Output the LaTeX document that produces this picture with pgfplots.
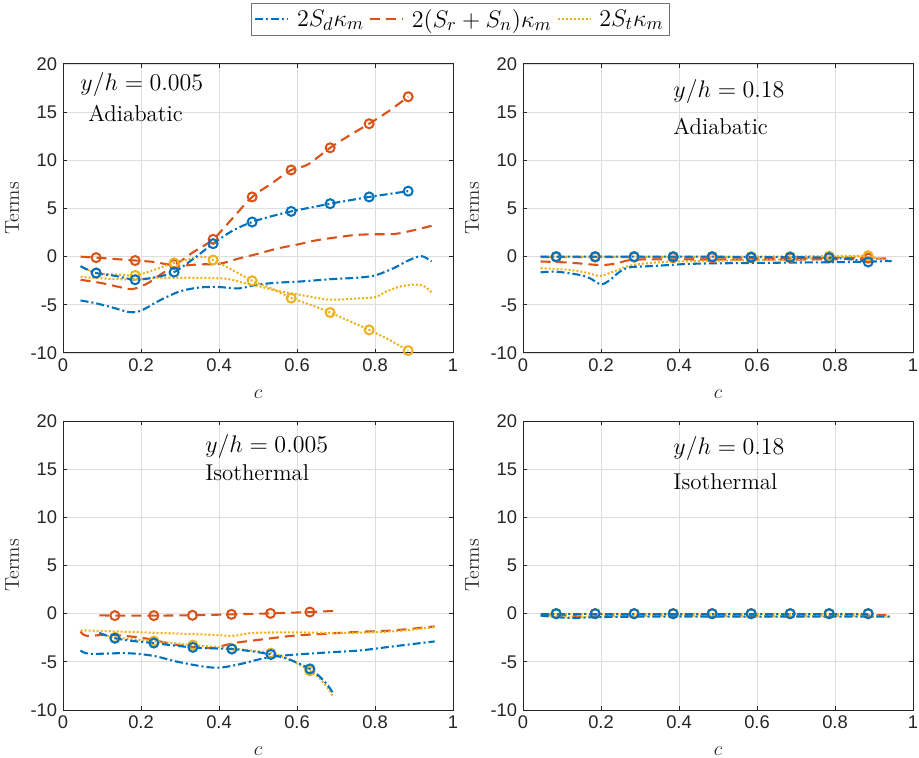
\documentclass[border=0pt]{standalone}
\usepackage{pgfplots}
\pgfplotsset{compat=1.18}
\usepackage{fontspec}
\newfontfamily\arialf{Liberation Sans}
\definecolor{mblue}{rgb}{0,0.447,0.741}
\definecolor{morange}{rgb}{0.85,0.325,0.098}
\definecolor{myellow}{rgb}{0.929,0.694,0.125}
\definecolor{maxis}{rgb}{0.15,0.15,0.15}
\tikzset{
 bl/.style={color=mblue, line width=1.25pt, dash pattern=on 4.8pt off 1.8pt on 1.2pt off 1.8pt},
 ol/.style={color=morange, line width=1.25pt, dash pattern=on 6pt off 3.6pt},
 yl/.style={color=myellow, line width=1.25pt, dash pattern=on 1.2pt off 1.2pt},
 bm/.style={only marks, mark=o, mark size=2.7pt, mark options={solid, line width=1.2pt, draw=mblue}},
 om/.style={only marks, mark=o, mark size=2.7pt, mark options={solid, line width=1.2pt, draw=morange}},
 ym/.style={only marks, mark=o, mark size=2.7pt, mark options={solid, line width=1.2pt, draw=myellow}},
}
\pgfplotsset{
 mat/.style={
  scale only axis, width=234pt, height=173.4pt,
  xmin=0, xmax=1, ymin=-10, ymax=20,
  xtick={0,0.2,0.4,0.6,0.8,1}, xticklabels={0,0.2,0.4,0.6,0.8,1},
  ytick={-10,-5,0,5,10,15,20}, yticklabels={-10,-5,0,5,10,15,20},
  tick align=inside, xtick pos=both, ytick pos=both,
  xticklabel pos=lower, yticklabel pos=left,
  major tick length=2.4pt,
  grid=major, major grid style={color=black!13, line width=0.5pt},
  axis line style={maxis, line width=0.6pt},
  every tick/.style={maxis, line width=0.6pt},
  tick label style={font=\arialf\fontsize{11}{13}\selectfont, text=maxis},
  xlabel={$c$}, ylabel={Terms},
  label style={font=\fontsize{12}{14}\selectfont, text=maxis},
  xlabel style={yshift=-4pt},
  every axis plot/.append style={forget plot},
  clip=false,
 },
}
\newcommand{\anno}{\fontsize{13.7}{16}\selectfont}
\begin{document}
\begin{tikzpicture}
\path[use as bounding box] (0,0) rectangle (551.4pt,-454.8pt);

% ---------------- panel 1
\begin{axis}[mat, at={(37.8pt,-38.4pt)}, anchor=north west,
  legend style={at={(1.019,1.212)}, anchor=north, legend columns=3,
    draw=black!55, line width=0.6pt, fill=white,
    font=\fontsize{15}{17}\selectfont, inner sep=1.5pt,
    /tikz/every even column/.append style={column sep=1pt},
    /tikz/every odd column/.append style={column sep=2.5pt}},
  legend image code/.code={\draw[#1] (0pt,0pt) -- (20pt,0pt);}]
\addlegendimage{bl}\addlegendentry{$2S_d\kappa_m$}
\addlegendimage{ol}\addlegendentry{$2(S_r+S_n)\kappa_m$}
\addlegendimage{yl}\addlegendentry{$2S_t\kappa_m$}
% unmarked
\addplot[bl, smooth] coordinates {(0.045,-4.55) (0.08,-4.8) (0.12,-5.2) (0.17,-5.75) (0.2,-5.6) (0.25,-4.5) (0.3,-3.6) (0.35,-3.2) (0.4,-3.15) (0.45,-3.3) (0.5,-2.9) (0.55,-2.7) (0.6,-2.6) (0.65,-2.45) (0.7,-2.3) (0.75,-2.2) (0.8,-1.95) (0.85,-1.15) (0.88,-0.5) (0.91,0) (0.925,0) (0.945,-0.5)};
\addplot[ol, smooth] coordinates {(0.045,-2.4) (0.1,-2.75) (0.15,-3.2) (0.18,-3.35) (0.22,-2.7) (0.26,-1.6) (0.3,-1.0) (0.35,-0.8) (0.4,-0.75) (0.45,-0.2) (0.5,0.3) (0.55,0.85) (0.6,1.25) (0.65,1.7) (0.7,2.0) (0.75,2.25) (0.8,2.33) (0.85,2.35) (0.9,2.75) (0.945,3.2)};
\addplot[yl, smooth] coordinates {(0.045,-2.1) (0.1,-2.25) (0.16,-2.35) (0.25,-2.2) (0.35,-2.2) (0.42,-2.3) (0.46,-2.7) (0.5,-3.05) (0.55,-3.55) (0.6,-3.9) (0.68,-4.45) (0.75,-4.35) (0.8,-4.2) (0.83,-3.6) (0.865,-3.1) (0.9,-2.9) (0.925,-3.05) (0.945,-3.7)};
% marked
\addplot[ol, smooth] coordinates {(0.045,0) (0.085,-0.1) (0.135,-0.25) (0.185,-0.4) (0.235,-0.55) (0.285,-0.8) (0.335,0.5) (0.385,1.8) (0.435,4.0) (0.485,6.2) (0.535,7.6) (0.585,9.0) (0.627,9.55) (0.685,11.3) (0.735,12.6) (0.785,13.8) (0.835,15.1) (0.885,16.6)};
\addplot[om] coordinates {(0.085,-0.1) (0.185,-0.4) (0.285,-0.8) (0.385,1.8) (0.485,6.2) (0.585,9.0) (0.685,11.3) (0.785,13.8) (0.885,16.6)};
\addplot[yl, smooth] coordinates {(0.045,-1.0) (0.085,-1.7) (0.135,-1.85) (0.185,-1.95) (0.235,-1.35) (0.285,-0.65) (0.335,-0.15) (0.36,0) (0.385,-0.35) (0.435,-1.4) (0.485,-2.5) (0.535,-3.3) (0.585,-4.3) (0.635,-5.0) (0.685,-5.8) (0.735,-6.7) (0.785,-7.6) (0.835,-8.6) (0.885,-9.75)};
\addplot[ym] coordinates {(0.085,-1.7) (0.185,-1.95) (0.285,-0.65) (0.385,-0.35) (0.485,-2.5) (0.585,-4.3) (0.685,-5.8) (0.785,-7.6) (0.885,-9.75)};
\addplot[bl, smooth] coordinates {(0.045,-1.0) (0.085,-1.7) (0.135,-2.0) (0.185,-2.4) (0.235,-2.15) (0.285,-1.6) (0.335,-0.2) (0.385,1.35) (0.435,2.7) (0.485,3.6) (0.535,4.2) (0.585,4.7) (0.635,5.1) (0.685,5.5) (0.735,5.85) (0.785,6.2) (0.835,6.5) (0.885,6.8)};
\addplot[bm] coordinates {(0.085,-1.7) (0.185,-2.4) (0.285,-1.6) (0.385,1.35) (0.485,3.6) (0.585,4.7) (0.685,5.5) (0.785,6.2) (0.885,6.8)};
\node[anchor=west, font=\anno, inner sep=0pt] at (axis cs:0.044,17.9) {$y/h=0.005$};
\node[anchor=west, font=\anno, inner sep=0pt] at (axis cs:0.064,14.9) {Adiabatic};
\end{axis}

% ---------------- panel 2
\begin{axis}[mat, at={(313.8pt,-38.4pt)}, anchor=north west]
\addplot[ol, smooth] coordinates {(0.045,-0.5) (0.12,-0.62) (0.197,-0.87) (0.24,-0.7) (0.274,-0.35) (0.334,-0.28) (0.5,-0.3) (0.7,-0.3) (0.85,-0.25) (0.945,-0.17)};
\addplot[yl, smooth] coordinates {(0.045,-1.2) (0.12,-1.38) (0.163,-1.66) (0.197,-2.0) (0.231,-1.56) (0.265,-1.04) (0.3,-0.76) (0.377,-0.52) (0.505,-0.42) (0.676,-0.28) (0.847,0) (0.887,0) (0.945,-0.5)};
\addplot[bl, smooth] coordinates {(0.045,-1.63) (0.086,-1.56) (0.146,-1.9) (0.172,-2.25) (0.2,-2.87) (0.223,-2.42) (0.248,-1.56) (0.274,-1.1) (0.334,-0.97) (0.42,-0.76) (0.505,-0.69) (0.676,-0.62) (0.847,-0.55) (0.945,-0.45)};
\addplot[ol] coordinates {(0.045,-0.05) (0.285,-0.05) (0.485,-0.1) (0.685,-0.12) (0.885,-0.15)};
\addplot[om] coordinates {(0.085,-0.05) (0.185,-0.05) (0.285,-0.05) (0.385,-0.08) (0.485,-0.1) (0.585,-0.1) (0.685,-0.12) (0.785,-0.12) (0.885,-0.15)};
\addplot[yl] coordinates {(0.045,0) (0.485,0) (0.785,0.05) (0.885,0.1)};
\addplot[ym] coordinates {(0.085,0) (0.185,0) (0.285,0) (0.385,0) (0.485,0) (0.585,0) (0.685,0) (0.785,0.05) (0.885,0.1)};
\addplot[bl, smooth] coordinates {(0.045,0) (0.085,0) (0.185,0) (0.285,0) (0.385,0) (0.485,0) (0.585,-0.05) (0.685,-0.05) (0.785,-0.1) (0.835,-0.25) (0.885,-0.55)};
\addplot[bm] coordinates {(0.085,0) (0.185,0) (0.285,0) (0.385,0) (0.485,0) (0.585,-0.05) (0.685,-0.05) (0.785,-0.1) (0.885,-0.55)};
\node[anchor=west, font=\anno, inner sep=0pt] at (axis cs:0.385,17.1) {$y/h=0.18$};
\node[anchor=west, font=\anno, inner sep=0pt] at (axis cs:0.385,13.5) {Adiabatic};
\end{axis}

% ---------------- panel 3
\begin{axis}[mat, at={(37.8pt,-252.6pt)}, anchor=north west]
\addplot[bl, smooth] coordinates {(0.045,-3.82) (0.069,-4.17) (0.163,-4.1) (0.232,-4.38) (0.291,-4.97) (0.36,-5.49) (0.403,-5.6) (0.454,-5.24) (0.505,-4.72) (0.556,-4.38) (0.676,-4.03) (0.761,-3.82) (0.846,-3.4) (0.953,-2.88)};
\addplot[ol, smooth] coordinates {(0.045,-1.84) (0.06,-2.29) (0.12,-2.2) (0.206,-2.53) (0.291,-3.23) (0.377,-3.58) (0.437,-3.06) (0.505,-2.7) (0.59,-2.29) (0.676,-2.08) (0.761,-1.88) (0.846,-1.74) (0.953,-1.32)};
\addplot[yl, smooth] coordinates {(0.045,-1.74) (0.078,-1.77) (0.249,-2.0) (0.377,-2.19) (0.437,-2.29) (0.488,-2.0) (0.59,-1.94) (0.718,-2.0) (0.846,-1.84) (0.953,-1.39)};
\addplot[ol, smooth] coordinates {(0.093,-0.17) (0.133,-0.2) (0.233,-0.2) (0.332,-0.17) (0.432,-0.07) (0.532,0.03) (0.633,0.17) (0.693,0.28)};
\addplot[om] coordinates {(0.133,-0.2) (0.233,-0.2) (0.332,-0.17) (0.432,-0.07) (0.532,0.03) (0.633,0.17)};
\addplot[yl, smooth] coordinates {(0.093,-2.0) (0.133,-2.47) (0.233,-2.85) (0.333,-3.26) (0.433,-3.61) (0.533,-4.1) (0.583,-4.8) (0.633,-5.94) (0.66,-6.8) (0.68,-7.8) (0.693,-8.68)};
\addplot[ym] coordinates {(0.133,-2.47) (0.233,-2.85) (0.333,-3.26) (0.433,-3.61) (0.533,-4.1) (0.633,-5.94)};
\addplot[bl, smooth] coordinates {(0.093,-2.0) (0.133,-2.55) (0.183,-2.85) (0.233,-3.05) (0.283,-3.3) (0.333,-3.5) (0.383,-3.6) (0.433,-3.68) (0.483,-3.9) (0.533,-4.24) (0.583,-4.8) (0.633,-5.73) (0.66,-6.6) (0.68,-7.5) (0.693,-8.26)};
\addplot[bm] coordinates {(0.133,-2.55) (0.233,-3.05) (0.333,-3.5) (0.433,-3.68) (0.533,-4.24) (0.633,-5.73)};
\node[anchor=west, font=\anno, inner sep=0pt] at (axis cs:0.364,17.4) {$y/h=0.005$};
\node[anchor=west, font=\anno, inner sep=0pt] at (axis cs:0.364,14.6) {Isothermal};
\end{axis}

% ---------------- panel 4
\begin{axis}[mat, at={(313.8pt,-252.6pt)}, anchor=north west]
\addplot[ol, smooth] coordinates {(0.045,-0.1) (0.1,-0.15) (0.15,-0.3) (0.2,-0.25) (0.3,-0.15) (0.5,-0.2) (0.7,-0.25) (0.945,-0.15)};
\addplot[yl, smooth] coordinates {(0.045,-0.15) (0.12,-0.4) (0.2,-0.3) (0.4,-0.25) (0.6,-0.3) (0.8,-0.25) (0.945,-0.3)};
\addplot[bl, smooth] coordinates {(0.045,-0.2) (0.12,-0.45) (0.2,-0.35) (0.35,-0.3) (0.5,-0.3) (0.7,-0.3) (0.945,-0.3)};
\addplot[ol] coordinates {(0.045,0) (0.885,0)};
\addplot[om] coordinates {(0.085,0) (0.185,0) (0.285,0) (0.385,0) (0.485,0) (0.585,0) (0.685,0) (0.785,0) (0.885,0)};
\addplot[yl] coordinates {(0.045,0) (0.885,0)};
\addplot[ym] coordinates {(0.085,0) (0.185,0) (0.285,0) (0.385,0) (0.485,0) (0.585,0) (0.685,0) (0.785,0) (0.885,0)};
\addplot[bl] coordinates {(0.045,0) (0.885,0)};
\addplot[bm] coordinates {(0.085,0) (0.185,0) (0.285,0) (0.385,0) (0.485,0) (0.585,0) (0.685,0) (0.785,0) (0.885,0)};
\node[anchor=west, font=\anno, inner sep=0pt] at (axis cs:0.385,17.1) {$y/h=0.18$};
\node[anchor=west, font=\anno, inner sep=0pt] at (axis cs:0.385,13.7) {Isothermal};
\end{axis}
\end{tikzpicture}
\end{document}
